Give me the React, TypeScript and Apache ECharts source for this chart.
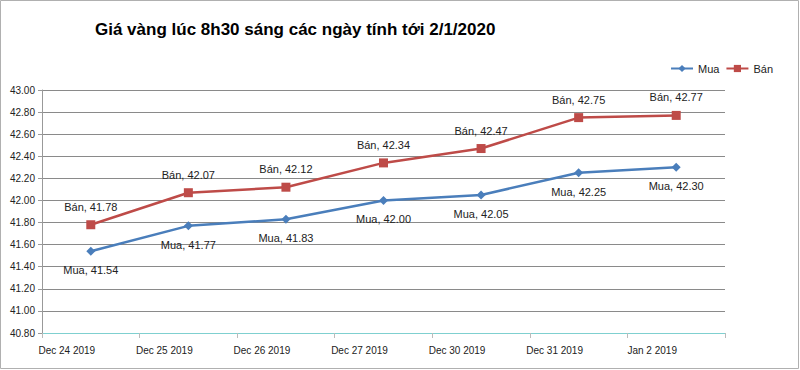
import React, { useEffect, useRef } from "react";
import * as echarts from "echarts";

const categories = ["Dec 24 2019", "Dec 25 2019", "Dec 26 2019", "Dec 27 2019", "Dec 30 2019", "Dec 31 2019", "Jan 2 2019"];
const muaValues = [41.54, 41.77, 41.83, 42.0, 42.05, 42.25, 42.3];
const banValues = [41.78, 42.07, 42.12, 42.34, 42.47, 42.75, 42.77];
const titleText = "Giá vàng lúc 8h30 sáng các ngày tính tới 2/1/2020";

const FONT = "'Liberation Sans', 'Open Sans', sans-serif";

export default function App() {
  const ref = useRef<HTMLDivElement>(null);
  useEffect(() => {
    document.body.style.margin = "0";
    const chart = echarts.init(ref.current!, null, { renderer: "svg" });
    chart.setOption({
      animation: false,
      backgroundColor: "#ffffff",
      title: {
        text: titleText,
        left: 90,
        top: 16,
        textStyle: { fontFamily: FONT, fontSize: 17, fontWeight: "bold", color: "#000000" },
      },
      legend: {
        right: 22,
        top: 58,
        itemWidth: 22,
        itemHeight: 9,
        itemGap: 6,
        textStyle: { fontFamily: FONT, fontSize: 11, color: "#222" },
        data: ["Mua", "Bán"],
      },
      grid: { left: 42, right: 75, top: 90, bottom: 37 },
      xAxis: {
        type: "category",
        data: categories,
        boundaryGap: true,
        axisLine: { lineStyle: { color: "#7fd0d0", width: 1 } },
        axisTick: { show: true, alignWithLabel: false, lineStyle: { color: "#bbbbbb" } },
        axisLabel: {
          fontFamily: FONT,
          fontSize: 10,
          color: "#222",
          margin: 12,
          padding: [0, 48, 0, 0],
        },
      },
      yAxis: {
        type: "value",
        min: 40.8,
        max: 43.0,
        interval: 0.2,
        axisLine: { show: true, lineStyle: { color: "#999" } },
        axisTick: { show: true, length: 4, lineStyle: { color: "#999" } },
        splitLine: { lineStyle: { color: "#8a8a8a", width: 1 } },
        axisLabel: {
          fontFamily: FONT,
          fontSize: 10,
          color: "#222",
          margin: 7,
          formatter: (v: number) => v.toFixed(2),
        },
      },
      series: [
        {
          name: "Mua",
          type: "line",
          data: muaValues,
          symbol: "diamond",
          symbolSize: 9,
          color: "#4a7ebb",
          lineStyle: { width: 2.5, color: "#4a7ebb" },
          itemStyle: { color: "#4a7ebb" },
          label: {
            show: true,
            position: "bottom",
            distance: 9,
            fontFamily: FONT,
            fontSize: 11,
            color: "#222",
            formatter: (p: any) => `${p.seriesName}, ${Number(p.value).toFixed(2)}`,
          },
        },
        {
          name: "Bán",
          type: "line",
          data: banValues,
          symbol: "rect",
          symbolSize: 9,
          color: "#be4b48",
          lineStyle: { width: 2.5, color: "#be4b48" },
          itemStyle: { color: "#be4b48" },
          label: {
            show: true,
            position: "top",
            distance: 8,
            fontFamily: FONT,
            fontSize: 11,
            color: "#222",
            formatter: (p: any) => `${p.seriesName}, ${Number(p.value).toFixed(2)}`,
          },
        },
      ],
      graphic: [
        {
          type: "rect",
          shape: { x: 0.5, y: 0.5, width: 798, height: 368 },
          style: { fill: "none", stroke: "#b0b0b0", lineWidth: 1 },
          silent: true,
        },
      ],
    });
    return () => chart.dispose();
  }, []);
  return <div ref={ref} style={{ width: 800, height: 370 }} />;
}
